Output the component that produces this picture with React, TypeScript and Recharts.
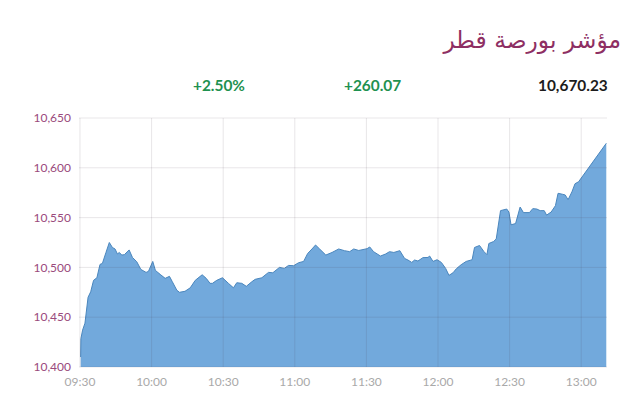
import { Area, AreaChart, ReferenceLine, XAxis, YAxis } from "recharts";

// minutes since 09:30
const minutes = [
  0.3, 0.4, 1.1, 2.1, 3.4, 4.5, 5.7, 7.1, 8.4, 9.4, 10.9, 12.3, 13.6, 14.7, 15.7, 16.5, 17.5, 18.6, 20.6, 22,
  23.8, 25.5, 27.7, 28.7, 30.5, 31.6, 33.6, 35.7, 37.5, 38.7, 40.6, 41.7, 44, 46.2, 48.3, 51.2, 52.9, 54.5, 55.5, 57.3,
  59.7, 62.2, 64.3, 65.7, 67.8, 69.7, 72, 73.4, 76.2, 79, 80.8, 83.6, 85.6, 87.4, 89.5, 91.6, 93.7, 95.4, 97.2, 98.7,
  100.4, 103, 105.6, 108.4, 110.8, 113, 114.7, 116.8, 120.3, 121.4, 123, 125.9, 128, 129.7, 131.5, 134, 136, 137.4, 139, 140.2,
  141.6, 143.7, 145.8, 146.5, 147.9, 149.6, 151.4, 153.2, 154.6, 156.3, 157.7, 159.7, 161.8, 164.3, 165.3, 167.4, 169.2, 170.5, 171.3, 173.3,
  174.4, 176.2, 178.8, 179.7, 180.6, 182.5, 184.4, 185.8, 188.3, 189.7, 191.4, 192.8, 194.5, 195.5, 197.4, 199.2, 200.3, 202.2, 203.3, 204.5,
  206.1, 207.4, 208.9, 220.5,
];
const index = [
  10410, 10428.5, 10437, 10444, 10470, 10475.5, 10487, 10489.6, 10503, 10504, 10515, 10525, 10520, 10518.5, 10513.5, 10515, 10512.4, 10512.8, 10517.5, 10510,
  10505.7, 10498, 10495, 10496, 10506, 10497, 10493, 10489, 10491, 10485.6, 10477, 10475, 10476, 10479.5, 10487, 10492.6, 10489, 10484, 10484, 10487,
  10489.6, 10484, 10479.5, 10484.6, 10484, 10481, 10485.6, 10488, 10489.6, 10495, 10494.6, 10500, 10499, 10502, 10501.7, 10504.7, 10506, 10514, 10518.5, 10522.5,
  10518.5, 10512.4, 10515, 10518.5, 10516.8, 10515.8, 10518.5, 10517, 10518.8, 10520.5, 10515.8, 10511.4, 10513.4, 10515.8, 10515, 10516.8, 10509, 10507.4, 10505, 10507.4,
  10506.4, 10509.8, 10510, 10511.4, 10506, 10507.7, 10505, 10499, 10492, 10494.6, 10498.7, 10502.7, 10506, 10507.7, 10520, 10522, 10516, 10512.8, 10524, 10526,
  10528.6, 10557, 10558.6, 10555.6, 10542.8, 10544, 10560.6, 10555, 10555, 10559, 10558.6, 10557, 10557, 10552.5, 10555.6, 10562, 10574.4, 10573.4, 10572.7, 10568,
  10575.8, 10584, 10586, 10624.6,
];
const xTicks = [0, 30, 60, 90, 120, 150, 180, 210];
const xLabels = ["09:30", "10:00", "10:30", "11:00", "11:30", "12:00", "12:30", "13:00"];
const yTicks = [10400, 10450, 10500, 10550, 10600, 10650];

const title = "مؤشر بورصة قطر";
const lastValue = "10,670.23";
const change = "+260.07";
const changePct = "+2.50%";

const rows = minutes.map((m, i) => ({ m, v: index[i] }));
const FONT = "Lato, sans-serif";
const GRID = "rgba(80,60,80,0.13)";

function Stat({ x, color, text }: { x: number; color: string; text: string }) {
  return (
    <div
      style={{
        position: "absolute",
        left: x,
        top: 76,
        fontFamily: FONT,
        fontSize: 15.4,
        fontWeight: 700,
        lineHeight: "18px",
        color,
      }}
    >
      {text}
    </div>
  );
}

export default function App() {
  return (
    <div style={{ position: "absolute", left: 0, top: 0, width: 640, height: 408, background: "#fff" }}>
      <div
        dir="rtl"
        style={{
          position: "absolute",
          right: 19,
          top: 21,
          fontFamily: "'DejaVu Sans', sans-serif",
          fontSize: 23.4,
          lineHeight: "38px",
          color: "#8e2f63",
        }}
      >
        {title}
      </div>
      <Stat x={193} color="#1f9150" text={changePct} />
      <Stat x={344} color="#1f9150" text={change} />
      <Stat x={538} color="#1c1c1c" text={lastValue} />
      <AreaChart
        width={640}
        height={408}
        data={rows}
        margin={{ top: 118, right: 33, left: 0, bottom: 0 }}
      >
        <XAxis
          type="number"
          dataKey="m"
          domain={[-0.4, 220.8]}
          ticks={xTicks}
          tickFormatter={(v) => xLabels[xTicks.indexOf(v)]}
          axisLine={false}
          tickLine={false}
          height={41}
          tickMargin={4}
          interval={0}
          tick={{ fill: "#a9a9a9", fontSize: 12, fontFamily: FONT }}
        />
        <YAxis
          type="number"
          domain={[10400, 10650]}
          ticks={yTicks}
          tickFormatter={(v) => Number(v).toLocaleString("en-US")}
          axisLine={false}
          tickLine={false}
          width={79}
          tickMargin={2}
          interval={0}
          tick={{ fill: "#9a4a7c", fontSize: 12, fontFamily: FONT }}
        />
        <Area
          type="linear"
          dataKey="v"
          stroke="#4a86bd"
          strokeWidth={1}
          fill="#72a9dc"
          fillOpacity={1}
          dot={false}
          isAnimationActive={false}
        />
        {xTicks.map((t) => (
          <ReferenceLine key={t} x={t} stroke={GRID} />
        ))}
        {yTicks.map((t) => (
          <ReferenceLine key={t} y={t} stroke={GRID} />
        ))}
      </AreaChart>
    </div>
  );
}
